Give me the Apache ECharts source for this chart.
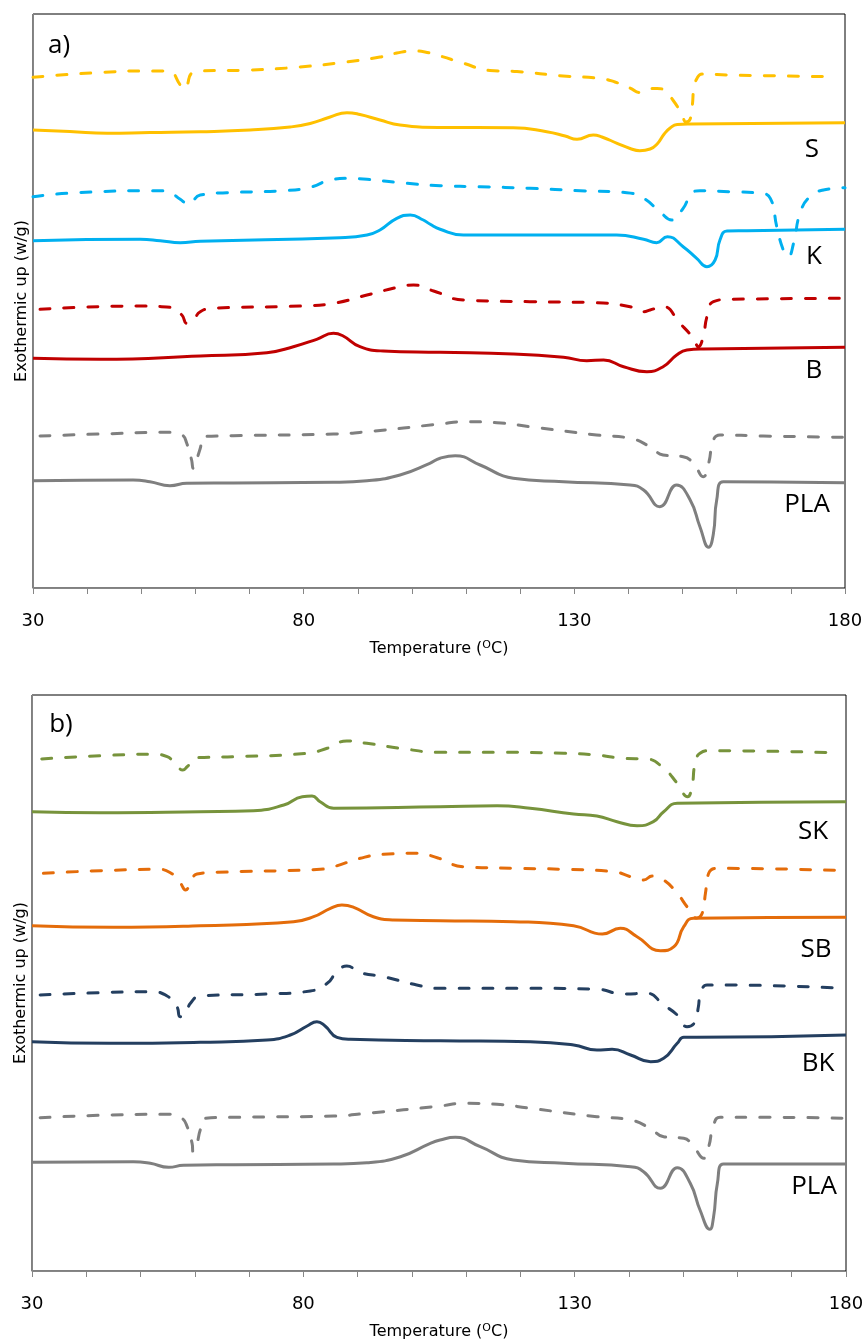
<!DOCTYPE html>
<html><head><meta charset="utf-8">
<script src="https://cdn.jsdelivr.net/npm/echarts@6/dist/echarts.min.js"></script>
<style>html,body{margin:0;padding:0;background:#fff;} #c{width:865px;height:1342px;}</style>
</head><body><div id="c"></div>
<script>
// ---- Temperature axis (°C) ----
const T_MIN = 30, T_MAX = 180, T_STEP = 10;
const tickLabels = [30, 80, 130, 180];

// ---- Panel a) : heat flow in arbitrary units (curves offset) ----
const S_dash_T  = [30,35,42.4,49.8,53.5,55.3,57.2,57.8,58.4,59.3,60.9,70.1,79.3,87.8,94.1,97.2,100.2,102.4,105.2,109.4,114.4,119.4,127.9,134.8,137.5,140.3,142.1,144.0,145.3,146.8,148.2,149.4,150.1,150.6,151.4,151.8,152.1,152.7,153.6,158.8,177.8];
const S_dash_HF = [510.7,513,515.5,517,517,516.3,503,498.7,502,514.7,517,518,521,526,531,535,537,536,532,525,517.5,516.5,512,509.5,506,500,495.5,499.5,499.5,497,488,478,470,466,469,483,500,510,514,513,511.3];
const S_T  = [30,36.8,43.7,51.6,60.9,70.1,77.5,81.2,84.9,88.0,90.4,94.1,97.8,105.2,118.7,124.9,128.3,130.5,133.5,135.1,137.9,140.3,142.1,144.0,145.3,146.6,147.7,149.0,151.4,180];
const S_HF = [458,456.5,454.7,455.5,456.3,458,461,464.5,471,475.3,473.5,468,463,460.5,460.3,456.3,452,448.7,453,451,444.7,439.5,437.3,439,444,454,460,463.5,464,465.3];

const K_dash_T  = [30,38.1,52.9,55.3,57.2,58.7,60.9,65.8,76.2,81.2,84.9,88.0,91.7,97.8,105.2,112.6,121.8,131.1,139.7,142.8,145.8,148.0,150.1,151.7,153.2,158.8,164.3,166.2,167.4,168.6,169.5,170.5,171.7,173.5,176.0,180];
const K_dash_HF = [391.3,395.3,397.3,395.3,388.7,384,393,395.3,397.3,400.7,408,409.7,408.7,405.3,402.3,401.3,399.7,397.3,395.3,389.7,376.3,368,379.7,394.7,397.3,396.3,394.7,389.7,361.3,338,331.3,344.7,374.7,391.3,398,400.3];
const K_T  = [30,49.8,53.5,57.2,60.9,86.7,91.7,94.1,97.2,99.7,102.1,103.3,105.2,109.5,121.8,137.8,142.8,145.2,147.2,150.1,152.6,154.5,156.0,156.9,158.2,161.9,180];
const K_HF = [347.3,348.7,347.3,345.3,346.7,350.3,353,358,369.7,373,368,364,358.7,353,353,353,348.7,345.3,351.3,341.3,329.7,321.3,328,348,357,357.3,358.7];

const B_dash_T  = [31.3,49.8,55.3,57.5,58.4,59.6,60.9,63.3,79.3,85.5,91.7,97.8,100.3,104.0,109.5,121.8,134.1,140.3,142.8,144.0,146.4,149.5,152.0,152.9,153.8,154.5,155.7,158.8,180];
const B_dash_HF = [278.7,282,280.7,273,264.7,268,276.3,279.7,282,284.7,293,301.3,303,297,288,286.3,285.3,281.3,276.3,278,281.3,264.7,249.7,241.3,251.3,271.3,286.3,288.7,289.7];
const B_T  = [30,42.4,60.9,73.2,78.1,82.4,85.5,87.3,90.4,94.7,105.2,118.7,128.0,132.3,135.4,139.1,143.4,146.4,148.9,150.8,153.8,180];
const B_HF = [229.7,228.7,232,235.3,241.3,248.7,254.7,252,241.3,237,235.7,234,230.7,227.3,228,221.3,216.3,221.3,233,238,239,240.7];

const PLAa_dash_T  = [31.3,42.4,55.3,57.5,58.4,59.3,59.6,60.2,60.9,61.5,67.0,85.5,91.7,105.2,109.5,115.7,121.8,134.1,140.3,144.0,146.4,150.1,152.0,153.8,154.8,155.7,156.9,164.9,180];
const PLAa_dash_HF = [152,154,155.7,153,144.7,128,119.7,128,139.7,151.3,152.3,154,156.3,164,166.3,165.3,161.3,153,149.7,141.3,133,131.3,124.7,111.3,124.7,148,153,152,150.7];
const PLAa_T  = [30,48.5,51.6,55.3,58.4,67.0,85.5,91.7,97.8,103.3,105.2,108.0,112.6,118.7,128.0,140.3,142.8,145.8,148.9,151.4,153.2,154.8,155.7,156.3,157.5,180];
const PLAa_HF = [107.3,108,106.3,102.3,104.7,105,105.7,107.3,113,124.7,129.7,132.3,123,109.7,106.3,103,98,81.3,103,88,61.3,40.7,54.7,88,106.3,105.3];

// ---- Panel b) ----
const SK_dash_T  = [31.8,42.6,52.4,54.9,56.7,57.8,58.6,60.4,67.2,80.7,84.4,88.0,91.7,97.9,105.2,115.7,128.0,134.1,139.0,143.3,146.4,148.9,150.8,151.6,152.2,153.1,155.0,177.7];
const SK_dash_HF = [512,515.3,516.7,514.3,505,501,504.3,513.3,514.3,517.7,522.7,530,527.7,522.7,518.7,518.7,517.7,516,512.7,512,502.7,487.7,474.3,484.3,507.7,517.7,520.3,518.3];
const SK_T  = [30,42.6,61.0,70.8,76.4,79.8,81.6,83.1,85.6,105.2,115.7,121.8,129.8,134.1,137.8,141.5,144.5,146.4,148.9,180];
const SK_HF = [459.3,458.3,459.3,460.3,466,474.3,475,469.3,462.7,464.3,465.3,462.7,457,455,449.3,445.3,449.3,459.3,467.7,469.3];

const SB_dash_T  = [32.1,42.6,53.0,55.5,57.3,58.3,59.2,60.4,64.1,83.1,85.6,90.5,94.8,100.9,104.8,109.5,118.7,128.0,137.2,140.3,142.7,144.3,146.4,148.9,150.7,152.5,153.5,154.1,154.7,156.2,180];
const SB_dash_HF = [397.7,400.3,401.7,398.3,388.3,381,387.7,397,398.7,401.7,404.3,412.7,416.7,417.7,413,404.3,402.7,401.7,399.3,394.3,391,395,391,377.7,364.3,353,357.7,377.7,397.7,402.7,400.3];
const SB_T  = [30,45.0,61.0,78.2,81.9,85.0,87.1,89.3,92.9,96.6,105.2,118.7,129.8,135.1,138.4,141.5,145.8,148.3,150.1,151.9,180];
const SB_HF = [345.3,343.7,345.3,349.3,354.3,362.7,366,363.7,354.3,351,350.3,349.3,345.3,337,342.7,334.3,320.3,324.3,344.3,352.7,353.7];

const BK_dash_T  = [31.5,42.6,51.8,54.9,56.7,57.3,58.3,59.2,61.0,73.3,81.3,84.4,86.2,88.0,90.5,94.8,100.9,105.2,121.8,134.1,139.0,143.3,146.4,148.9,150.7,152.2,152.8,153.1,154.4,157.4,179.5];
const BK_dash_HF = [276,278.3,279.3,275,264.3,254.3,257.7,267.7,275,277,280,287.7,299.3,305,298.3,294.3,286,282.7,282.7,281.7,277,277.7,266,256,244.3,249.3,264.3,274.3,286,286,282.7];
const BK_T  = [30,44.4,61.0,73.3,77.6,80.7,82.5,84.0,86.2,88.7,105.2,121.8,129.8,134.1,136.9,140.3,144.0,146.4,148.9,150.1,152.5,180];
const BK_HF = [229.3,227.7,228.7,231,236,245,249.3,245,233.7,231.7,230.3,229.3,226,221,221.7,216,209.3,212.7,227.7,233.7,233.7,236];

const PLAb_dash_T  = [31.5,42.6,55.2,57.6,58.6,59.5,59.7,60.4,61.0,61.9,67.2,85.6,91.7,105.2,109.5,115.7,121.8,134.1,140.3,143.9,146.4,150.1,151.9,153.8,154.7,155.6,156.8,164.8,180];
const PLAb_dash_HF = [153.3,155.7,156.7,152.7,144.3,127.7,119.3,127.7,141,152.7,153.7,155,157.7,165,167.7,166.7,162.7,154.3,151,142.7,134.3,132.7,124.3,112.7,124.3,146,153.7,153.7,152.7];
const PLAb_T  = [30,48.7,51.8,55.2,57.9,67.2,85.6,91.7,97.9,103.4,105.2,108.0,112.6,118.7,128.0,140.3,142.7,145.8,148.9,151.3,153.1,154.9,155.6,156.3,157.4,180];
const PLAb_HF = [108.7,109.3,107.7,103.7,105.7,106.3,107,108.3,114.3,127.7,131,133.7,124.3,111,107.7,104.3,99.3,82.7,103.3,87.7,61,41.7,54.3,87.7,107,107];

const curveLabelsA = ['S','K','B','PLA'];
const curveLabelsB = ['SK','SB','BK','PLA'];

// ---- styling ----
const C = {S:'#FFC000', K:'#00B0F0', B:'#C00000', PLA:'#7F7F7F', SK:'#77933C', SB:'#E46C0A', BK:'#243F60'};
const AXIS_GRAY = '#868686';
const TICK_FONT = 'DejaVu Sans';
const LABEL_FONT = 'Open Sans';

function zip(t, h){ return t.map((v,i)=>[v,h[i]]); }
function line(name, t, h, color, dashed, gi){
  return {
    name, type:'line', xAxisIndex:gi, yAxisIndex:gi,
    data: zip(t,h), showSymbol:false, symbol:'none',
    smooth:0.5, silent:true,
    lineStyle: dashed ? {color, width:3, type:[10,14], cap:'round', join:'round'} : {color, width:3, join:'round'}
  };
}

function xAx(gi){
  return {
    type:'value', gridIndex:gi, min:T_MIN, max:T_MAX, interval:T_STEP,
    axisLine:{show:true, lineStyle:{color:AXIS_GRAY, width:1}},
    axisTick:{show:true, inside:false, length:6, lineStyle:{color:AXIS_GRAY}},
    splitLine:{show:false},
    axisLabel:{margin:24, fontSize:18, fontFamily:TICK_FONT, color:'#000',
      formatter:v=> tickLabels.indexOf(Math.round(v))>=0 ? String(Math.round(v)) : ''},
    name:'Temperature ({sup|O}C)', nameLocation:'middle', nameGap:52,
    nameTextStyle:{fontSize:16, fontFamily:TICK_FONT, color:'#000',
      rich:{sup:{fontSize:11, fontFamily:TICK_FONT, color:'#000', verticalAlign:'top', padding:[0,0,6,0]}}}
  };
}
function yAx(gi, max){
  return {
    type:'value', gridIndex:gi, min:0, max:max,
    axisLine:{show:true, lineStyle:{color:AXIS_GRAY, width:1}},
    axisTick:{show:false}, axisLabel:{show:false}, splitLine:{show:false},
    name:'Exothermic up (w/g)', nameLocation:'middle', nameGap:3,
    nameTextStyle:{fontSize:16, fontFamily:TICK_FONT, color:'#000'}
  };
}

const chart = echarts.init(document.getElementById('c'), null, {renderer:'canvas'});
function txt(s, x, y, size){
  return {type:'text', x, y, silent:true,
    style:{text:s, fill:'#000', font:(size||26)+'px "'+LABEL_FONT+'"', align:'center', verticalAlign:'middle'}};
}
chart.setOption({
  animation:false,
  backgroundColor:'#fff',
  grid:[
    {left:33, top:14, width:812, height:574, show:true, borderColor:'#000', borderWidth:1, backgroundColor:'transparent', outerBoundsMode:'none', containLabel:false},
    {left:32, top:695, width:814, height:576, show:true, borderColor:'#000', borderWidth:1, backgroundColor:'transparent', outerBoundsMode:'none', containLabel:false}
  ],
  xAxis:[xAx(0), xAx(1)],
  yAxis:[yAx(0,574), yAx(1,576)],
  series:[
    line('S heating 2', S_dash_T, S_dash_HF, C.S, true, 0),
    line('S', S_T, S_HF, C.S, false, 0),
    line('K heating 2', K_dash_T, K_dash_HF, C.K, true, 0),
    line('K', K_T, K_HF, C.K, false, 0),
    line('B heating 2', B_dash_T, B_dash_HF, C.B, true, 0),
    line('B', B_T, B_HF, C.B, false, 0),
    line('PLA heating 2', PLAa_dash_T, PLAa_dash_HF, C.PLA, true, 0),
    line('PLA', PLAa_T, PLAa_HF, C.PLA, false, 0),
    line('SK heating 2', SK_dash_T, SK_dash_HF, C.SK, true, 1),
    line('SK', SK_T, SK_HF, C.SK, false, 1),
    line('SB heating 2', SB_dash_T, SB_dash_HF, C.SB, true, 1),
    line('SB', SB_T, SB_HF, C.SB, false, 1),
    line('BK heating 2', BK_dash_T, BK_dash_HF, C.BK, true, 1),
    line('BK', BK_T, BK_HF, C.BK, false, 1),
    line('PLA heating 2 ', PLAb_dash_T, PLAb_dash_HF, C.PLA, true, 1),
    line('PLA ', PLAb_T, PLAb_HF, C.PLA, false, 1)
  ],
  graphic:[
    txt('a)', 59, 46), txt('b)', 61, 725),
    txt(curveLabelsA[0], 812, 150), txt(curveLabelsA[1], 814, 257),
    txt(curveLabelsA[2], 814, 371), txt(curveLabelsA[3], 807, 505),
    txt(curveLabelsB[0], 813, 832), txt(curveLabelsB[1], 816, 950),
    txt(curveLabelsB[2], 818, 1064), txt(curveLabelsB[3], 814, 1187)
  ]
});
</script></body></html>
